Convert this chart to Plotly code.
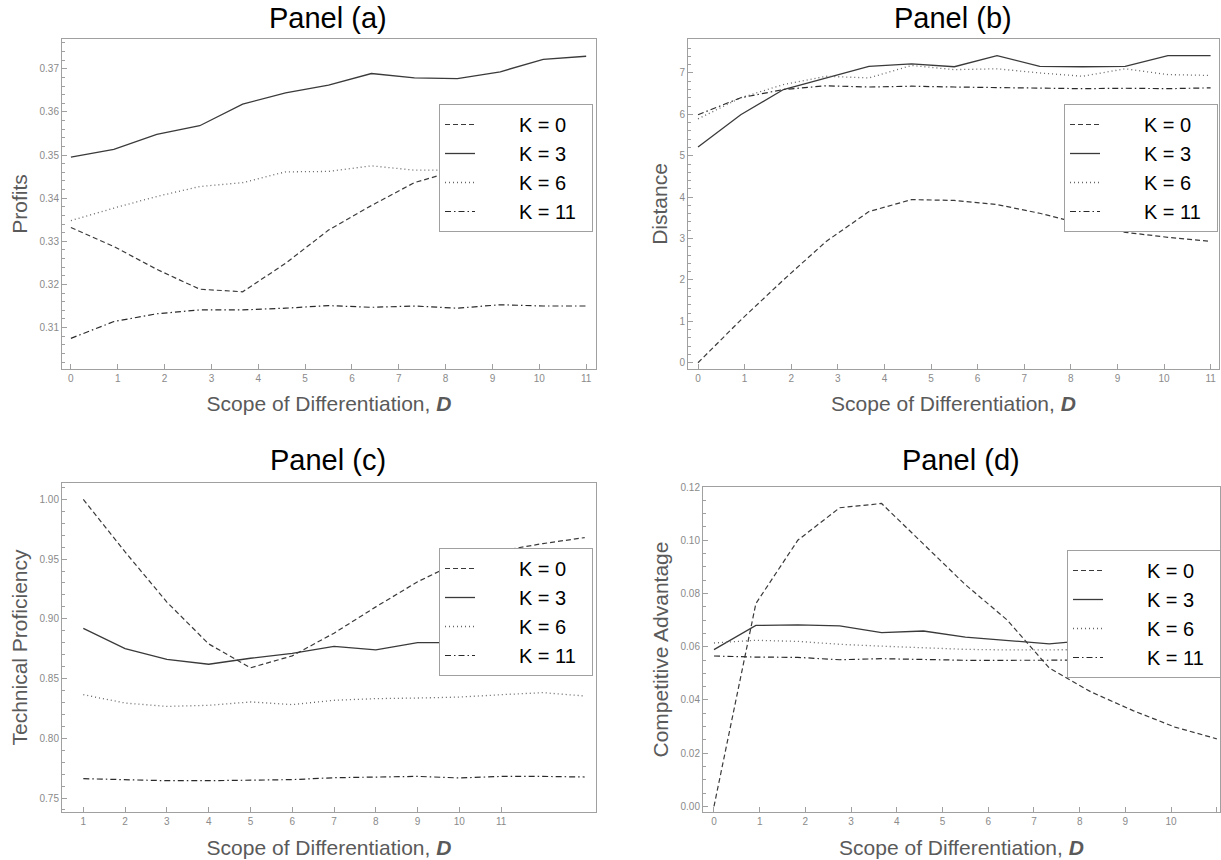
import plotly.graph_objects as go

# ---------------- data ----------------
K_LABELS = ["K = 0", "K = 3", "K = 6", "K = 11"]

# 13 simulated D steps, drawn over the 0..11 range (panels a, b, d)
D_STEPS = list(range(13))
# panel (c) is drawn at positions 1..13
D_STEPS_C = list(range(1, 14))

profits_k0 = [0.3332, 0.3288, 0.3235, 0.3189, 0.3183, 0.3249, 0.3326, 0.3383, 0.3436, 0.3465, 0.3485, 0.3500, 0.3510]
profits_k3 = [0.3495, 0.3513, 0.3548, 0.3568, 0.3618, 0.3644, 0.3662, 0.3689, 0.3679, 0.3677, 0.3693, 0.3722, 0.3729]
profits_k6 = [0.3348, 0.3377, 0.3404, 0.3427, 0.3436, 0.3461, 0.3462, 0.3475, 0.3465, 0.3465, 0.3470, 0.3472, 0.3475]
profits_k11 = [0.3075, 0.3114, 0.3132, 0.3141, 0.3141, 0.3145, 0.3151, 0.3147, 0.3150, 0.3145, 0.3153, 0.3150, 0.3150]

distance_k0 = [0.0, 1.03, 2.0, 2.93, 3.65, 3.94, 3.92, 3.82, 3.61, 3.35, 3.15, 3.03, 2.93]
distance_k3 = [5.21, 5.99, 6.6, 6.88, 7.16, 7.22, 7.15, 7.42, 7.16, 7.15, 7.16, 7.42, 7.42]
distance_k6 = [5.89, 6.40, 6.72, 6.92, 6.88, 7.18, 7.08, 7.10, 7.00, 6.92, 7.10, 6.96, 6.94]
distance_k11 = [5.99, 6.40, 6.60, 6.69, 6.66, 6.68, 6.66, 6.65, 6.64, 6.62, 6.63, 6.62, 6.64]

tech_k0 = [1.0, 0.956, 0.914, 0.879, 0.859, 0.869, 0.888, 0.910, 0.931, 0.948, 0.957, 0.963, 0.968]
tech_k3 = [0.892, 0.875, 0.866, 0.862, 0.867, 0.871, 0.877, 0.874, 0.880, 0.880, 0.881, 0.882, 0.883]
tech_k6 = [0.8365, 0.8295, 0.8267, 0.8276, 0.8304, 0.8282, 0.8318, 0.8332, 0.8337, 0.8345, 0.8365, 0.8382, 0.8354]
tech_k11 = [0.7662, 0.7654, 0.7645, 0.7645, 0.7650, 0.7654, 0.7670, 0.7676, 0.7681, 0.7668, 0.7681, 0.7681, 0.7676]

comp_k0 = [0.0, 0.0762, 0.1000, 0.1122, 0.1138, 0.0986, 0.0833, 0.0700, 0.0520, 0.0430, 0.0360, 0.0298, 0.0254]
comp_k3 = [0.0589, 0.0680, 0.0682, 0.0678, 0.0653, 0.0659, 0.0636, 0.0624, 0.0611, 0.0625, 0.0635, 0.0640, 0.0640]
comp_k6 = [0.0614, 0.0624, 0.0620, 0.0609, 0.0602, 0.0596, 0.0590, 0.0588, 0.0588, 0.0588, 0.0590, 0.0590, 0.0590]
comp_k11 = [0.0565, 0.0561, 0.0560, 0.0551, 0.0555, 0.0551, 0.0549, 0.0549, 0.0549, 0.0550, 0.0550, 0.0550, 0.0550]

X_TICKS = list(range(0, 12))
X_TICKS_C = list(range(1, 12))

# ---------------- styling ----------------
FONT = "Liberation Sans, Arial, sans-serif"
STYLES = [
    dict(color="#3a3a3a", width=1.2, dash="5px,3px"),
    dict(color="#3a3a3a", width=1.3, dash="solid"),
    dict(color="#666666", width=1.3, dash="1px,3px"),
    dict(color="#2a2a2a", width=1.2, dash="6px,3px,1.5px,3px"),
]
LEAD = "\u00a0" * 7
TRAIL = "\u00a0" * 2

x_scaled = [d * 11 / 12 for d in D_STEPS]

panels = [
    dict(x=x_scaled, ys=[profits_k0, profits_k3, profits_k6, profits_k11], ax="", leg="legend"),
    dict(x=x_scaled, ys=[distance_k0, distance_k3, distance_k6, distance_k11], ax="2", leg="legend2"),
    dict(x=D_STEPS_C, ys=[tech_k0, tech_k3, tech_k6, tech_k11], ax="3", leg="legend3"),
    dict(x=x_scaled, ys=[comp_k0, comp_k3, comp_k6, comp_k11], ax="4", leg="legend4"),
]

fig = go.Figure()
for p in panels:
    for lab, y, st in zip(K_LABELS, p["ys"], STYLES):
        fig.add_trace(go.Scatter(
            x=p["x"], y=y, mode="lines", name=LEAD + lab + TRAIL,
            line=st, xaxis="x" + p["ax"], yaxis="y" + p["ax"],
            legend=p["leg"], showlegend=True))

W, H = 1221, 860


def px_x(a, b):
    return [a / W, b / W]


def px_y(top, bottom):
    return [1 - bottom / H, 1 - top / H]


tick_font = dict(family=FONT, size=10, color="#8a8a8a")
title_font = dict(family=FONT, size=21, color="#5a5a5a")

common_x = dict(showline=True, mirror=True, linecolor="#a0a0a0", linewidth=1,
                ticks="inside", ticklen=5, tickcolor="#a0a0a0", showgrid=False,
                zeroline=False, tickfont=tick_font, title_font=title_font)
common_y = dict(showline=True, mirror=True, linecolor="#a0a0a0", linewidth=1,
                ticks="inside", ticklen=5, tickcolor="#a0a0a0", showgrid=False,
                zeroline=False, tickfont=tick_font, title_font=title_font,
                minor=dict(ticks="inside", ticklen=3, tickcolor="#a0a0a0", showgrid=False))

x_title = "Scope of Differentiation, <b><i>D</i></b>"

layout = dict(
    width=W, height=H, margin=dict(l=0, r=0, t=0, b=0, autoexpand=False),
    paper_bgcolor="white", plot_bgcolor="white",
    font=dict(family=FONT),
    xaxis=dict(common_x, domain=px_x(62, 596), range=[-0.19, 11.21], tickvals=X_TICKS,
               anchor="y", title=dict(text=x_title, standoff=13)),
    yaxis=dict(common_y, domain=px_y(39, 369), range=[0.3004, 0.3769], dtick=0.01,
               tick0=0.31, tickformat=".2f", anchor="x", minor=dict(common_y["minor"], dtick=0.002),
               title=dict(text="Profits", standoff=6)),
    xaxis2=dict(common_x, domain=px_x(688, 1219), range=[-0.215, 11.18], tickvals=X_TICKS,
                anchor="y2", title=dict(text=x_title, standoff=13)),
    yaxis2=dict(common_y, domain=px_y(39, 369), range=[-0.152, 7.82], dtick=1, tick0=0,
                anchor="x2", minor=dict(common_y["minor"], dtick=0.2),
                title=dict(text="Distance", standoff=6)),
    xaxis3=dict(common_x, domain=px_x(62, 596), range=[0.49, 13.27], tickvals=X_TICKS_C,
                anchor="y3", title=dict(text=x_title, standoff=14)),
    yaxis3=dict(common_y, domain=px_y(483, 812), range=[0.7383, 1.0137], dtick=0.05,
                tick0=0.75, tickformat=".2f", anchor="x3", minor=dict(common_y["minor"], dtick=0.01),
                title=dict(text="Technical Proficiency", standoff=6)),
    xaxis4=dict(common_x, domain=px_x(703, 1220), range=[-0.24, 11.07], tickvals=X_TICKS,
                anchor="y4", title=dict(text=x_title, standoff=14)),
    yaxis4=dict(common_y, domain=px_y(487, 812), range=[-0.0021, 0.12], dtick=0.02, tick0=0,
                tickformat=".2f", anchor="x4", minor=dict(common_y["minor"], dtick=0.005),
                title=dict(text="Competitive Advantage", standoff=6)),
)

leg_common = dict(bgcolor="white", bordercolor="#a0a0a0", borderwidth=1,
                  font=dict(family=FONT, size=20, color="black"),
                  xanchor="left", yanchor="top", traceorder="normal", tracegroupgap=0)
layout["legend"] = dict(leg_common, x=439 / W, y=1 - 104 / H)
layout["legend2"] = dict(leg_common, x=1064 / W, y=1 - 104 / H)
layout["legend3"] = dict(leg_common, x=439 / W, y=1 - 548 / H)
layout["legend4"] = dict(leg_common, x=1.0, xanchor="right", y=1 - 550 / H)

titles = [("Panel (a)", 328, 18), ("Panel (b)", 953, 18), ("Panel (c)", 328, 460), ("Panel (d)", 961, 460)]
layout["annotations"] = [
    dict(text=t, x=cx / W, y=1 - cy / H, xref="paper", yref="paper", showarrow=False,
         xanchor="center", yanchor="middle", font=dict(family=FONT, size=29, color="black"))
    for t, cx, cy in titles
]

fig.update_layout(**layout)
fig.write_html("out.html")
